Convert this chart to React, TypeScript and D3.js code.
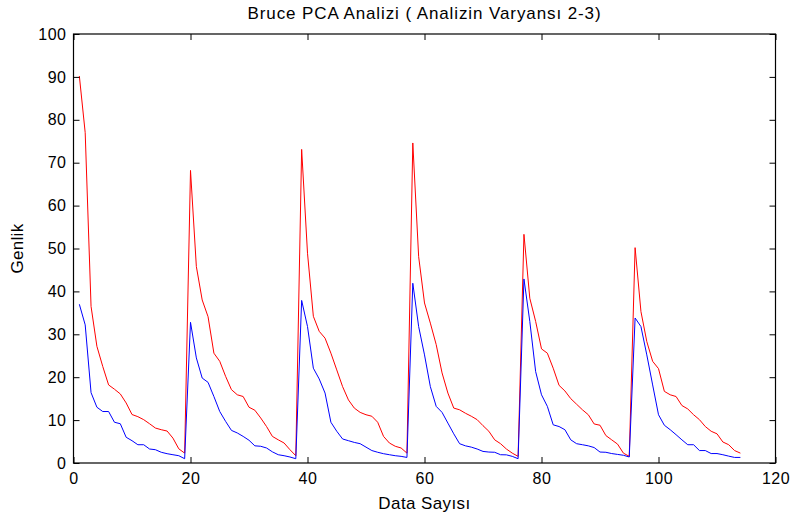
import React, { useEffect, useRef } from "react";
import * as d3 from "d3";

const xTicks = [0, 20, 40, 60, 80, 100, 120];
const yTicks = [0, 10, 20, 30, 40, 50, 60, 70, 80, 90, 100];

const redSeries = [
  90.2, 77.0, 36.5, 27.2, 22.5, 18.2, 17.2, 16.1, 14.0, 11.3, 10.8, 10.1, 9.15, 8.15, 7.76, 7.45, 5.8, 3.3, 2.3,
  68.2, 45.8, 38.0, 34.1, 25.6, 23.7, 20.2, 17.1, 15.9, 15.5, 13.0, 12.3, 10.5, 8.5, 6.2, 5.4, 4.66, 3.1, 1.7,
  73.1, 48.9, 34.2, 30.7, 29.1, 25.6, 21.7, 17.8, 14.7, 12.8, 11.8, 11.25, 10.9, 9.5, 6.2, 4.66, 3.9, 3.5, 2.3,
  74.6, 48.1, 37.3, 32.6, 27.6, 21.0, 16.3, 12.8, 12.4, 11.6, 10.9, 10.1, 8.7, 7.4, 5.4, 4.5, 3.26, 2.3, 1.55,
  53.3, 38.4, 33.0, 26.6, 25.6, 22.1, 18.1, 16.8, 15.0, 13.7, 12.4, 11.25, 9.1, 8.8, 6.4, 5.4, 4.4, 2.3, 1.55,
  50.2, 35.3, 28.3, 23.7, 22.0, 16.7, 15.9, 15.5, 13.4, 12.6, 11.25, 10.1, 8.5, 7.4, 6.8, 4.9, 4.26, 2.9, 2.3,
];

const blueSeries = [
  37.0, 32.2, 16.4, 13.0, 12.0, 12.0, 9.5, 9.15, 6.0, 5.2, 4.26, 4.26, 3.26, 3.1, 2.5, 2.17, 1.93, 1.7, 1.0,
  32.8, 24.5, 19.8, 18.8, 15.5, 12.0, 9.7, 7.6, 7.0, 6.2, 5.3, 4.0, 3.9, 3.5, 2.6, 1.93, 1.7, 1.4, 1.0,
  37.9, 31.8, 22.1, 19.6, 16.3, 9.5, 7.4, 5.6, 5.2, 4.8, 4.5, 3.7, 2.9, 2.5, 2.17, 1.93, 1.7, 1.55, 1.3,
  41.9, 31.8, 25.2, 17.8, 13.2, 11.8, 9.3, 6.8, 4.5, 4.0, 3.7, 3.26, 2.7, 2.55, 2.5, 1.93, 1.9, 1.55, 1.0,
  42.9, 33.0, 21.3, 15.9, 13.2, 8.9, 8.5, 7.76, 5.4, 4.5, 4.26, 4.0, 3.6, 2.55, 2.5, 2.2, 2.0, 1.8, 1.4,
  33.8, 31.8, 25.2, 18.2, 11.25, 8.8, 7.76, 6.6, 5.4, 4.26, 4.26, 2.9, 2.9, 2.2, 2.2, 1.93, 1.6, 1.3, 1.3,
];

const titleText = "Bruce PCA Analizi ( Analizin Varyansı 2-3)";
const xLabelText = "Data Sayısı";
const yLabelText = "Genlik";

const W = 792;
const H = 521;
const M = { left: 73.5, top: 34, right: 16.5, bottom: 58 };

export default function App() {
  const ref = useRef<SVGSVGElement>(null);

  useEffect(() => {
    const svg = d3.select(ref.current);
    svg.selectAll("*").remove();
    const font = "Liberation Sans, Arial, Helvetica, sans-serif";
    const iw = W - M.left - M.right;
    const ih = H - M.top - M.bottom;
    const x = d3.scaleLinear().domain([0, 120]).range([M.left, M.left + iw]);
    const y = d3.scaleLinear().domain([0, 100]).range([M.top + ih, M.top]);

    svg.append("rect").attr("x", 0).attr("y", 0).attr("width", W).attr("height", H).attr("fill", "#fff");

    const line = d3
      .line<number>()
      .x((_, i) => x(i + 1))
      .y((d) => y(d));

    svg
      .append("path")
      .datum(redSeries)
      .attr("d", line)
      .attr("fill", "none")
      .attr("stroke", "#ff0000")
      .attr("stroke-width", 1);
    svg
      .append("path")
      .datum(blueSeries)
      .attr("d", line)
      .attr("fill", "none")
      .attr("stroke", "#0000ff")
      .attr("stroke-width", 1);

    const tl = 6;
    const axisColor = "#000";
    const gb = svg.append("g").attr("transform", `translate(0,${M.top + ih})`);
    gb.call(d3.axisBottom(x).tickValues(xTicks).tickSizeInner(-tl).tickSizeOuter(0).tickPadding(10) as any);
    const gt = svg.append("g").attr("transform", `translate(0,${M.top})`);
    gt.call(d3.axisTop(x).tickValues(xTicks).tickSizeInner(-tl).tickSizeOuter(0).tickFormat(() => "") as any);
    const gl = svg.append("g").attr("transform", `translate(${M.left},0)`);
    gl.call(d3.axisLeft(y).tickValues(yTicks).tickSizeInner(-tl).tickSizeOuter(0).tickPadding(7) as any);
    const gr = svg.append("g").attr("transform", `translate(${M.left + iw},0)`);
    gr.call(d3.axisRight(y).tickValues(yTicks).tickSizeInner(-tl).tickSizeOuter(0).tickFormat(() => "") as any);

    [gb, gt, gl, gr].forEach((g) => {
      g.select(".domain").remove();
      g.selectAll("line").attr("stroke", axisColor).attr("stroke-width", 1);
      g.selectAll("text")
        .attr("font-family", font)
        .attr("font-size", 16)
        .attr("letter-spacing", 0.5)
        .attr("fill", "#000");
    });

    svg
      .append("rect")
      .attr("x", M.left)
      .attr("y", M.top)
      .attr("width", iw)
      .attr("height", ih)
      .attr("fill", "none")
      .attr("stroke", "#000")
      .attr("stroke-width", 1.2);

    svg
      .append("text")
      .attr("x", M.left + iw / 2)
      .attr("y", 19)
      .attr("text-anchor", "middle")
      .attr("font-family", font)
      .attr("font-size", 17)
      .attr("letter-spacing", 0.9)
      .attr("fill", "#000")
      .text(titleText);

    svg
      .append("text")
      .attr("x", M.left + iw / 2)
      .attr("y", 509)
      .attr("text-anchor", "middle")
      .attr("font-family", font)
      .attr("font-size", 17)
      .attr("letter-spacing", 0.4)
      .attr("fill", "#000")
      .text(xLabelText);

    svg
      .append("text")
      .attr("transform", `translate(23,${M.top + ih / 2}) rotate(-90)`)
      .attr("text-anchor", "middle")
      .attr("font-family", font)
      .attr("font-size", 17)
      .attr("letter-spacing", 0.3)
      .attr("fill", "#000")
      .text(yLabelText);
  }, []);

  return (
    <svg
      ref={ref}
      width={W}
      height={H}
      style={{ position: "absolute", left: 0, top: 0, display: "block" }}
    />
  );
}
